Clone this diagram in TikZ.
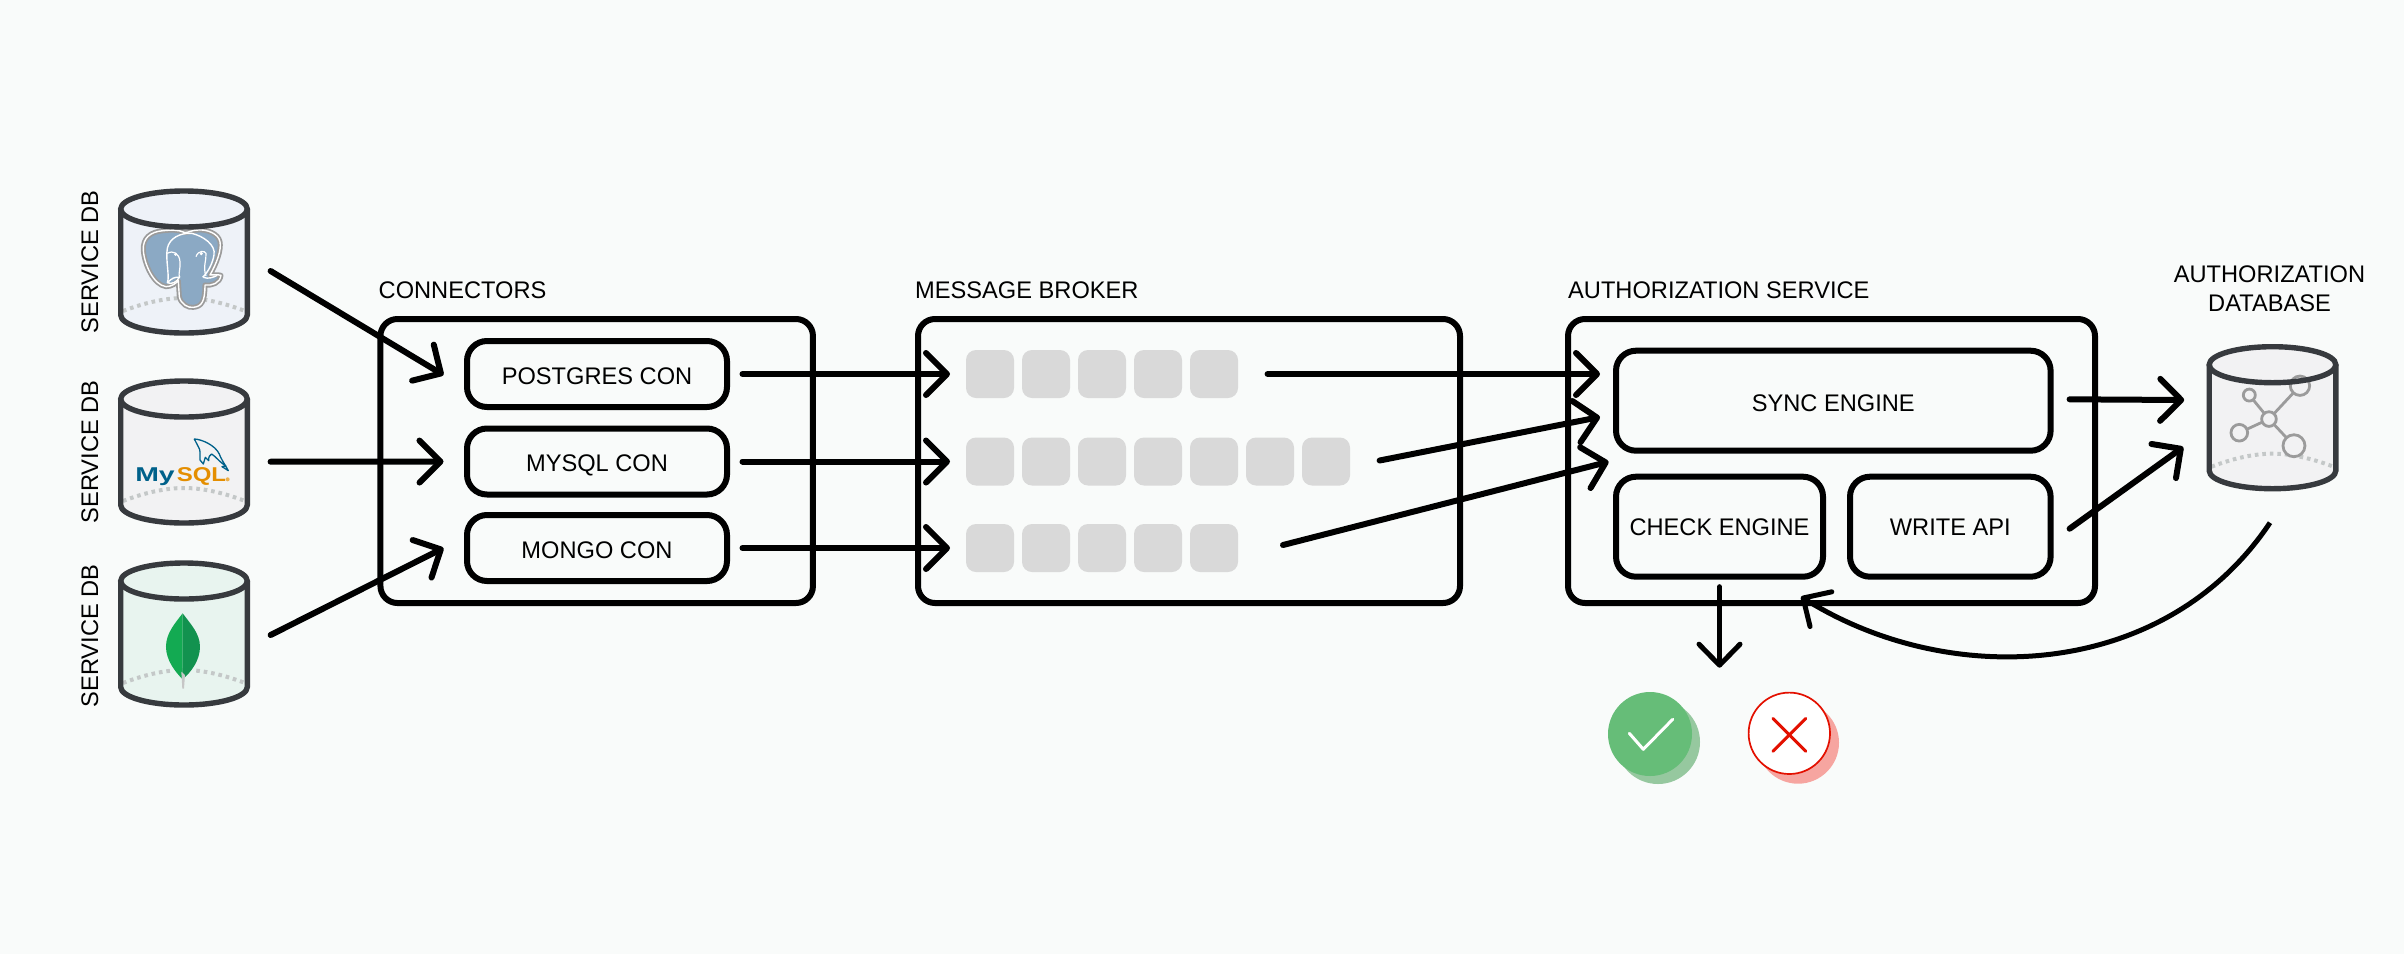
\documentclass[tikz,border=0pt]{standalone}
\usepackage{fontspec}
\setmainfont[FakeStretch=0.985]{Liberation Sans}
\newfontfamily\logofont{Liberation Sans}
\usetikzlibrary{arrows.meta,calc}
\definecolor{bgc}{HTML}{F9FBFA}
\definecolor{dbline}{HTML}{373A3E}
\definecolor{dotc}{HTML}{C4C8C8}
\definecolor{sqc}{HTML}{D9D9D9}
\definecolor{pgfill}{HTML}{EEF2F8}
\definecolor{myfill}{HTML}{F2F2F3}
\definecolor{mgfill}{HTML}{E8F4EF}
\definecolor{pgblue}{HTML}{8BA9C4}
\definecolor{iconc}{HTML}{9B9B9B}
\definecolor{myblue}{HTML}{00618A}
\definecolor{myor}{HTML}{E48E00}
\definecolor{leafa}{HTML}{13AA52}
\definecolor{leafb}{HTML}{12924F}
\definecolor{okc}{HTML}{66BD78}
\definecolor{oks}{HTML}{96C89F}
\definecolor{noc}{HTML}{E31000}
\definecolor{nos}{HTML}{F6A5A0}
\tikzset{
  x=1pt,y=-1pt,
  lbl/.style={font=\fontsize{24}{29}\selectfont,inner sep=0pt,text height=18pt,text depth=0pt,align=center},
  outerbox/.style={draw=black,line width=6pt,rounded corners=17pt,outer sep=0pt,inner sep=0pt},
  innerbox/.style={draw=black,line width=6pt,rounded corners=20pt,outer sep=0pt,inner sep=0pt,font=\fontsize{24}{29}\selectfont,text height=18pt,text depth=0pt},
  sq/.style={fill=sqc,rounded corners=10pt,minimum width=48pt,minimum height=48pt,outer sep=0pt,inner sep=0pt},
  dbnode/.style={minimum width=126.6pt,minimum height=142pt,outer sep=0pt,inner sep=0pt},
  conn/.style={line width=6pt,line cap=round,-{Straight Barb[length=21pt,width=42pt,round]}},
  thinconn/.style={line width=5pt,line cap=round,-{Straight Barb[length=21pt,width=41pt,round]}},
  zoomed/.style={shift={(-124,-39)},x=0.3333pt,y=-0.3333pt},
  zoomedm/.style={shift={(-124,-221)},x=0.3333pt,y=-0.3333pt},
}
\newcommand\cylback[1]{%
  \fill[#1] (-63.3,0) -- (-63.3,106) .. controls (-63.3,116) and (-35,124) .. (0,124) .. controls (35,124) and (63.3,116) .. (63.3,106) -- (63.3,0) .. controls (63.3,-10) and (35,-18) .. (0,-18) .. controls (-35,-18) and (-63.3,-10) .. (-63.3,0) -- cycle;
  \draw[dotc,line width=4pt,dash pattern=on 3.6pt off 3.9pt] (-61,102) .. controls (-35,92) and (-15,89) .. (0,89) .. controls (15,89) and (35,92) .. (61,102);
}
\newcommand\cylfront{%
  \draw[dbline,line width=5.4pt] (-63.3,0) -- (-63.3,106) .. controls (-63.3,116) and (-35,124) .. (0,124) .. controls (35,124) and (63.3,116) .. (63.3,106) -- (63.3,0);
  \draw[dbline,line width=5.4pt] (-63.3,0) .. controls (-63.3,-10) and (-35,-18) .. (0,-18) .. controls (35,-18) and (63.3,-10) .. (63.3,0) .. controls (63.3,10) and (35,18) .. (0,18) .. controls (-35,18) and (-63.3,10) .. (-63.3,0) -- cycle;
}
\newcommand\elephantpath{(310,182) .. controls (270,185) and (248,205) .. (250,240) .. controls (252,280) and (280,345) .. (318,350) .. controls (335,350) and (348,340) .. (355,332) -- (358,380) .. controls (362,402) and (385,415) .. (400,412) .. controls (425,410) and (435,395) .. (435,345) .. controls (455,348) and (480,340) .. (483,316) .. controls (470,312) and (460,316) .. (450,315) .. controls (470,280) and (485,240) .. (480,215) .. controls (475,190) and (440,178) .. (415,180) .. controls (395,180) and (385,188) .. (375,188) .. controls (355,178) and (330,180) .. (310,182) -- cycle}
\begin{document}
\begin{tikzpicture}
\useasboundingbox[fill=bgc] (0,0) rectangle (2404,954);

% ---- Postgres DB
\begin{scope}[shift={(184,209)}]
  \cylback{pgfill}
  \begin{scope}[zoomed]
    \draw[iconc,line width=5pt,fill=pgblue,line join=round] \elephantpath;
    \draw[white,line width=1.4pt,line join=round] \elephantpath;
    \draw[white,line width=1.4pt] (322,338) .. controls (330,320) and (316,270) .. (322,235) .. controls (328,205) and (360,188) .. (395,190) .. controls (430,198) and (468,225) .. (462,255) .. controls (458,280) and (445,305) .. (428,322);
    \draw[white,line width=1.4pt] (322,338) .. controls (335,345) and (352,335) .. (358,322) .. controls (345,320) and (335,325) .. (322,338);
    \draw[white,line width=1.4pt] (430,322) .. controls (445,328) and (460,322) .. (472,316);
    \draw[white,line width=1.2pt] (322,250) .. controls (340,240) and (358,250) .. (360,275) .. controls (362,295) and (355,310) .. (358,322);
    \draw[white,line width=1.2pt] (408,260) .. controls (415,240) and (435,242) .. (438,250) .. controls (440,270) and (428,290) .. (438,318);
    \fill[white] (347,253) circle (5);
    \fill[white] (424,251) circle (5);
  \end{scope}
  \cylfront
  \node[dbnode] (pgdb) at (0,53) {};
  \node[lbl,rotate=90] (pglabel) at (-95,53) {SERVICE DB};
\end{scope}

% ---- MySQL DB
\begin{scope}[shift={(184,399)}]
  \cylback{myfill}
  \begin{scope}[zoomed]
    \draw[myblue,line width=1.3pt,line join=round,fill=myfill] (403,237) .. controls (425,238) and (465,255) .. (478,282) .. controls (482,295) and (490,305) .. (505,332) -- (486,320) -- (498,318) .. controls (478,306) and (468,290) .. (455,282) .. controls (450,285) and (445,290) .. (446,302) -- (436,292) -- (430,312) -- (420,300) .. controls (420,285) and (422,270) .. (416,262) -- cycle;
    \node[anchor=base west,inner sep=0pt,outer sep=0pt] (mylogo) at (226,365) {\logofont\bfseries\fontsize{20}{24}\selectfont\color{myblue}\scalebox{1.42}[1]{My}\hspace{2pt}\color{myor}\scalebox{1.2}[1]{SQL}};
    \fill[myor!70] (503,358) circle (6);
  \end{scope}
  \cylfront
  \node[dbnode] (mydb) at (0,53) {};
  \node[lbl,rotate=90] (mylabel) at (-95,53) {SERVICE DB};
\end{scope}

% ---- Mongo DB
\begin{scope}[shift={(184,581)}]
  \cylback{mgfill}
  \begin{scope}[zoomedm]
    \draw[mgfill,line width=6pt] (368,760) .. controls (345,790) and (318,820) .. (318,860) .. controls (318,900) and (345,935) .. (368,958) .. controls (395,935) and (420,900) .. (420,860) .. controls (420,820) and (390,790) .. (368,760) -- cycle;
    \fill[leafa] (368,760) .. controls (345,790) and (318,820) .. (318,860) .. controls (318,900) and (345,935) .. (368,958) -- cycle;
    \fill[leafb] (368,760) .. controls (390,790) and (420,820) .. (420,860) .. controls (420,900) and (395,935) .. (368,958) -- cycle;
    \fill[gray!45] (364,935) -- (375,945) -- (372,986) -- (367,986) -- cycle;
  \end{scope}
  \cylfront
  \node[dbnode] (mgdb) at (0,53) {};
  \node[lbl,rotate=90] (mglabel) at (-95,55) {SERVICE DB};
\end{scope}

% ---- Authorization DB
\begin{scope}[shift={(2272.5,364.7)}]
  \cylback{myfill}
  \begin{scope}[shift={(-124.2,-36.3)},x=0.3333pt,y=-0.3333pt]
    \draw[iconc,line width=2.8pt] (362,272) -- (303,200) (362,272) -- (273,313) (362,272) -- (437,352) (362,272) -- (455,172);
    \draw[iconc,line width=2.8pt,fill=myfill] (362,272) circle (22);
    \draw[iconc,line width=2.8pt,fill=myfill] (303,200) circle (18);
    \draw[iconc,line width=2.8pt,fill=myfill] (273,313) circle (25);
    \draw[iconc,line width=2.8pt,fill=myfill] (437,352) circle (33);
    \draw[iconc,line width=2.8pt,fill=myfill] (455,172) circle (29);
  \end{scope}
  \cylfront
  \node[dbnode] (authdb) at (0,53) {};
\end{scope}
\node[lbl] (authdblabel1) at (2269.5,273) {AUTHORIZATION};
\node[lbl] (authdblabel2) at (2269.5,302) {DATABASE};

% ---- Section boxes
\node[outerbox,minimum width=432.5pt,minimum height=284pt] (connbox) at (596.7,461) {};
\node[outerbox,minimum width=542pt,minimum height=284pt] (brokerbox) at (1189,461) {};
\node[outerbox,minimum width=527pt,minimum height=284pt] (authbox) at (1831.5,461) {};
\node[lbl,anchor=west] (connlabel) at (378.5,289) {CONNECTORS};
\node[lbl,anchor=west] (brokerlabel) at (915,289) {MESSAGE BROKER};
\node[lbl,anchor=west] (authlabel) at (1568,289) {AUTHORIZATION SERVICE};

% ---- Connectors
\node[innerbox,minimum width=260pt,minimum height=66pt,text height=20pt] (pgcon) at (597,374) {POSTGRES CON};
\node[innerbox,minimum width=260pt,minimum height=66pt,text height=20pt] (mycon) at (597,461.5) {MYSQL CON};
\node[innerbox,minimum width=260pt,minimum height=66pt,text height=20pt] (mgcon) at (597,548) {MONGO CON};

% ---- Queues
\foreach \i in {1,...,5} {\node[sq] (qa\i) at ({990+56*(\i-1)},374) {};}
\foreach \i in {1,...,7} {\node[sq] (qb\i) at ({990+56*(\i-1)},461.5) {};}
\foreach \i in {1,...,5} {\node[sq] (qc\i) at ({990+56*(\i-1)},548) {};}

% ---- Authorization service
\node[innerbox,minimum width=434.6pt,minimum height=100pt,text height=22pt] (sync) at (1833.3,400.7) {SYNC ENGINE};
\node[innerbox,minimum width=207pt,minimum height=100pt] (check) at (1719.5,526.7) {CHECK ENGINE};
\node[innerbox,minimum width=200.6pt,minimum height=100pt] (write) at (1950.3,526.7) {WRITE API};

% ---- Results
\fill[oks] (1658,742) circle (42);
\node[circle,fill=okc,minimum size=84pt,inner sep=0pt,outer sep=0pt] (okcircle) at (1650,734) {};
\draw[white,line width=3pt,line cap=round,line join=round] ($(okcircle.center)+(-20.7,-0.7)$) -- ($(okcircle.center)+(-6.7,15.3)$) -- ($(okcircle.center)+(22.7,-14.7)$);
\fill[nos] (1798,742.7) circle (41);
\node[circle,draw=noc,line width=1.7pt,fill=white,minimum size=81.4pt,inner sep=0pt,outer sep=0pt] (nocircle) at (1789.3,733.3) {};
\draw[noc,line width=3pt,line cap=round] ($(nocircle.center)+(-16.5,-15)$) -- ($(nocircle.center)+(16.5,18)$);
\draw[noc,line width=3pt,line cap=round] ($(nocircle.center)+(-16.5,18)$) -- ($(nocircle.center)+(16.5,-15)$);

% ---- Arrows
\draw[conn] ($(pgdb.east)+(23.3,9)$) -- ($(pgcon.west)+(-23.5,1)$);
\draw[conn] ($(mydb.east)+(23.3,9.7)$) -- ($(mycon.west)+(-23.5,0)$);
\draw[conn] ($(mgdb.east)+(23.3,1)$) -- ($(mgcon.west)+(-23.5,0)$);
\draw[conn] ($(pgcon.east)+(15.5,0)$) -- ($(qa1.west)+(-16,0)$);
\draw[conn] ($(mycon.east)+(15.5,0)$) -- ($(qb1.west)+(-16,0)$);
\draw[conn] ($(mgcon.east)+(15.5,0)$) -- ($(qc1.west)+(-16,0)$);
\draw[conn] ($(qa5.east)+(29.6,0)$) -- ($(sync.west)+(-16,-26.7)$);
\draw[conn] ($(qb7.east)+(29.6,-1)$) -- ($(sync.west)+(-16,16.3)$);
\draw[conn] ($(qc5.east)+(45,-3)$) -- ($(sync.west)+(-7.4,61)$);
\draw[conn] ($(sync.east)+(19,-1.4)$) -- ($(authdb.west)+(-25,-17.7)$);
\draw[conn] ($(write.east)+(19,2)$) -- ($(authdb.west)+(-26,29.3)$);
\draw[thinconn] ($(check.south)+(0,10)$) -- ($(check.south)+(0,91)$);
\draw[thinconn,line cap=butt] ($(authdb.south)+(-2.5,34)$) .. controls (2165,680) and (1950,690) .. ($(check.south east)+(-22,20)$);
\end{tikzpicture}
\end{document}
